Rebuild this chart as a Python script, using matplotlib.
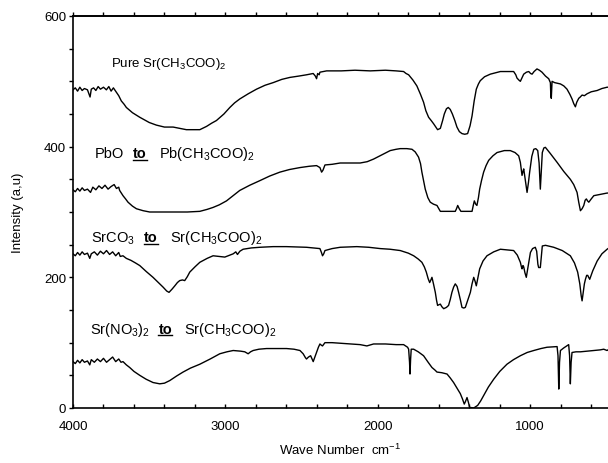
"""FTIR spectra of strontium / lead acetate prepared from different precursors.

Output: out.png
"""
import matplotlib
matplotlib.use("Agg")
import matplotlib.pyplot as plt  # noqa: E402
from matplotlib.lines import Line2D  # noqa: E402
from matplotlib.ticker import MultipleLocator, FixedLocator  # noqa: E402

plt.rcParams["font.family"] = ["Liberation Sans", "DejaVu Sans"]
plt.rcParams["mathtext.fontset"] = "custom"
plt.rcParams["mathtext.rm"] = "Liberation Sans"
plt.rcParams["mathtext.it"] = "Liberation Sans:italic"
plt.rcParams["mathtext.bf"] = "Liberation Sans:bold"

INK = "#000000"

# --- Pure Sr(CH3COO)2 -------------------------------------------------------
pure_wn = [4000, 3985, 3970, 3955, 3940, 3925, 3905, 3888, 3880, 3865, 3850, 3835,
           3820, 3800, 3781, 3765, 3750, 3735, 3715, 3700, 3683, 3665, 3650, 3610,
           3562, 3500, 3453, 3400, 3343, 3300, 3256, 3200, 3168, 3124, 3090, 3059,
           3010, 2971, 2940, 2906, 2850, 2796, 2740, 2687, 2630, 2577, 2520, 2468,
           2424, 2410, 2402, 2395, 2385, 2380, 2336, 2240, 2150, 2050, 1950, 1880,
           1831, 1815, 1798, 1770, 1744, 1720, 1700, 1685, 1667, 1650, 1634, 1620,
           1608, 1590, 1575, 1564, 1550, 1538, 1525, 1511, 1495, 1481, 1465, 1448,
           1430, 1411, 1395, 1382, 1368, 1354, 1340, 1328, 1300, 1262, 1230, 1196,
           1150, 1109, 1095, 1087, 1075, 1065, 1055, 1043, 1025, 1010, 998, 988,
           975, 956, 940, 923, 900, 879, 868, 865, 862, 858, 857, 840, 802, 780,
           759, 740, 726, 715, 704, 695, 682, 672, 660, 645, 627, 600, 561, 530,
           496, 490]
pure_int = [487, 490, 485, 491, 486, 489, 487, 476, 488, 490, 486, 492,
            488, 491, 487, 492, 485, 490, 483, 478, 470, 465, 460, 452,
            445, 437, 433, 430, 430, 428, 426, 426, 426, 431, 436, 440,
            450, 460, 467, 473, 481, 488, 494, 498, 503, 506, 508, 510,
            512, 508, 504, 512, 510, 514, 516, 516, 517, 516, 517, 516,
            515, 512, 510, 502, 493, 480, 468, 455, 445, 440, 435, 430,
            426, 428, 440, 450, 458, 460, 457, 450, 440, 430, 423, 420,
            419, 420, 432, 447, 470, 488, 496, 501, 507, 511, 513, 515,
            515, 515, 510, 505, 502, 500, 505, 511, 514, 515, 512, 511,
            515, 519, 517, 514, 508, 504, 498, 478, 474, 495, 500, 498, 496, 493,
            488, 480, 473, 466, 461, 468, 474, 476, 479, 478, 481, 484, 486, 489,
            491, 491]

# --- PbO -> Pb(CH3COO)2 -----------------------------------------------------
pbo_wn = [4000, 3985, 3970, 3955, 3940, 3925, 3905, 3885, 3870, 3850, 3830, 3810,
          3790, 3770, 3750, 3730, 3715, 3700, 3694, 3680, 3672, 3655, 3639, 3610,
          3584, 3540, 3497, 3400, 3343, 3250, 3168, 3120, 3081, 3040, 2993, 2950,
          2906, 2840, 2774, 2710, 2643, 2580, 2511, 2450, 2402, 2380, 2369, 2360,
          2347, 2300, 2247, 2116, 2070, 2028, 1970, 1919, 1880, 1853, 1810, 1776,
          1755, 1733, 1720, 1711, 1700, 1689, 1672, 1656, 1635, 1612, 1600, 1590,
          1540, 1492, 1484, 1476, 1466, 1455, 1420, 1382, 1374, 1367, 1358, 1350,
          1340, 1332, 1320, 1306, 1290, 1273, 1245, 1218, 1170, 1131, 1100, 1076,
          1065, 1054, 1048, 1043, 1032, 1021, 1012, 1004, 990, 977, 964, 951,
          942, 934, 928, 921, 911, 901, 870, 824, 780, 737, 715, 693,
          682, 671, 660, 649, 640, 632, 624, 616, 600, 583, 540, 496, 490]
pbo_int = [334, 331, 336, 332, 337, 333, 335, 330, 338, 334, 340, 336,
           341, 335, 339, 342, 336, 338, 333, 328, 325, 320, 315, 309,
           305, 302, 300, 300, 300, 300, 301, 304, 307, 311, 317, 325,
           333, 341, 348, 355, 361, 365, 368, 370, 371, 368, 361, 364,
           372, 373, 375, 375, 377, 381, 388, 394, 396, 397, 397, 396,
           392, 384, 374, 361, 348, 335, 322, 315, 312, 310, 305, 301,
           301, 301, 305, 310, 305, 301, 301, 301, 310, 317, 312, 310,
           322, 335, 348, 361, 371, 379, 386, 391, 394, 394, 391, 386,
           376, 356, 362, 366, 348, 330, 345, 361, 385, 396, 397, 394,
           375, 335, 360, 391, 398, 399, 390, 376, 362, 350, 342, 330,
           315, 302, 305, 310, 318, 320, 317, 315, 320, 325, 327, 329, 329]

# --- SrCO3 -> Sr(CH3COO)2 ---------------------------------------------------
srco3_wn = [4000, 3985, 3970, 3955, 3940, 3925, 3905, 3890, 3880, 3860, 3840, 3820,
            3800, 3780, 3760, 3740, 3720, 3700, 3690, 3672, 3650, 3620, 3590, 3562,
            3520, 3475, 3440, 3409, 3385, 3370, 3350, 3332, 3315, 3300, 3282, 3267,
            3250, 3234, 3200, 3168, 3120, 3081, 3040, 3004, 2970, 2949, 2932, 2921,
            2905, 2884, 2830, 2774, 2687, 2600, 2468, 2380, 2370, 2363, 2355, 2347,
            2300, 2247, 2138, 2060, 1984, 1920, 1853, 1800, 1765, 1735, 1711, 1695,
            1682, 1670, 1660, 1652, 1645, 1635, 1623, 1615, 1608, 1600, 1590, 1580,
            1568, 1550, 1536, 1525, 1514, 1503, 1492, 1480, 1470, 1458, 1448, 1436,
            1426, 1410, 1393, 1382, 1371, 1362, 1354, 1343, 1332, 1310, 1284, 1240,
            1196, 1150, 1109, 1085, 1065, 1058, 1054, 1048, 1043, 1035, 1026, 1012,
            999, 985, 967, 958, 950, 945, 934, 928, 921, 900, 846, 790,
            737, 710, 689, 675, 666, 660, 652, 645, 638, 630, 623, 617,
            610, 590, 561, 530, 496, 490]
srco3_int = [236, 233, 238, 234, 239, 235, 237, 229, 236, 239, 234, 240,
             236, 241, 235, 239, 233, 238, 232, 233, 229, 226, 222, 218,
             209, 200, 192, 185, 179, 177, 182, 187, 192, 195, 196, 195,
             201, 208, 216, 223, 229, 233, 232, 231, 234, 236, 239, 235,
             240, 243, 245, 246, 247, 247, 246, 244, 238, 233, 236, 241,
             244, 246, 247, 246, 244, 243, 241, 237, 233, 228, 223, 216,
             208, 198, 192, 196, 200, 190, 177, 165, 157, 158, 159, 155,
             152, 154, 157, 166, 177, 185, 190, 186, 177, 165, 154, 153,
             154, 165, 177, 190, 200, 194, 187, 200, 213, 225, 233, 239,
             243, 242, 241, 234, 223, 216, 213, 218, 216, 207, 200, 220,
             238, 244, 246, 240, 220, 215, 215, 230, 248, 249, 246, 241,
             233, 222, 208, 190, 172, 164, 178, 190, 197, 203, 203, 200,
             197, 210, 225, 236, 243, 244]

# --- Sr(NO3)2 -> Sr(CH3COO)2 ------------------------------------------------
srno3_wn = [4000, 3985, 3970, 3955, 3940, 3925, 3905, 3890, 3880, 3860, 3840, 3820,
            3800, 3780, 3760, 3740, 3720, 3700, 3685, 3672, 3650, 3628, 3600, 3562,
            3520, 3475, 3431, 3400, 3365, 3320, 3278, 3230, 3168, 3100, 3037, 2990,
            2949, 2900, 2873, 2851, 2835, 2818, 2780, 2730, 2660, 2599, 2550, 2511,
            2490, 2475, 2468, 2455, 2441, 2430, 2424, 2413, 2402, 2390, 2380, 2370,
            2363, 2347, 2300, 2240, 2170, 2116, 2072, 2028, 1950, 1880, 1831, 1805,
            1798, 1792, 1789, 1785, 1781, 1765, 1735, 1700, 1670, 1645, 1625, 1612,
            1580, 1546, 1525, 1503, 1480, 1459, 1445, 1433, 1425, 1415, 1405, 1398,
            1371, 1345, 1325, 1306, 1275, 1240, 1200, 1153, 1110, 1065, 1020, 977,
            930, 890, 824, 818, 813, 808, 802, 780, 760, 748, 742, 737,
            732, 726, 700, 671, 630, 583, 540, 518, 496, 490]
srno3_int = [71, 68, 73, 69, 74, 70, 72, 66, 74, 70, 75, 71,
             76, 70, 74, 78, 71, 75, 70, 71, 66, 62, 56, 50,
             44, 39, 37, 38, 42, 49, 55, 61, 67, 75, 83, 86,
             88, 87, 86, 83, 86, 88, 90, 91, 91, 91, 90, 88,
             83, 77, 75, 78, 80, 74, 71, 78, 85, 93, 98, 96,
             95, 100, 100, 99, 98, 97, 95, 98, 98, 97, 97, 93,
             90, 70, 52, 75, 90, 90, 86, 80, 70, 62, 58, 55,
             54, 52, 46, 39, 30, 22, 14, 6, 10, 16, 8, 1,
             0, 4, 11, 19, 32, 44, 56, 67, 74, 80, 85, 88,
             91, 93, 94, 80, 29, 70, 88, 92, 95, 97, 80, 37,
             70, 85, 86, 86, 87, 88, 89, 90, 88, 89]

SPECTRA = [(pure_wn, pure_int), (pbo_wn, pbo_int),
           (srco3_wn, srco3_int), (srno3_wn, srno3_int)]

# label pieces: (text, bold+underlined?)
LABELS = [
    ((3749, 524), 9.5, [("Pure Sr(CH$_3$COO)$_2$", False)]),
    ((3858, 384), 10.5, [("PbO", False), ("to", True), ("Pb(CH$_3$COO)$_2$", False)]),
    ((3880, 255), 10.5, [("SrCO$_3$", False), ("to", True), ("Sr(CH$_3$COO)$_2$", False)]),
    ((3891, 115), 10.5, [("Sr(NO$_3$)$_2$", False), ("to", True), ("Sr(CH$_3$COO)$_2$", False)]),
]
GAPS = [9, 12]


def main():
    W, H = 608, 464
    fig = plt.figure(figsize=(W / 100, H / 100), dpi=100)
    ax = fig.add_axes([73 / W, 55 / H, 535 / W, 392 / H])

    for wn, inten in SPECTRA:
        ax.plot(wn, inten, color=INK, lw=1.0, solid_joinstyle="round")

    ax.set_xlim(4000, 490)
    ax.set_ylim(0, 600)
    ax.xaxis.set_major_locator(FixedLocator([4000, 3000, 2000, 1000]))
    ax.xaxis.set_minor_locator(MultipleLocator(200))
    ax.yaxis.set_major_locator(FixedLocator([0, 200, 400, 600]))
    ax.yaxis.set_minor_locator(MultipleLocator(50))
    ax.tick_params(axis="x", which="both", direction="in", length=3, width=1,
                   labelsize=9.5, pad=9, colors=INK)
    ax.tick_params(axis="y", which="both", direction="out", length=3, width=1,
                   labelsize=9.5, pad=2, colors=INK)
    top = ax.secondary_xaxis("top")
    top.xaxis.set_major_locator(FixedLocator([4000, 3000, 2000, 1000]))
    top.xaxis.set_minor_locator(MultipleLocator(200))
    top.tick_params(axis="x", which="both", direction="out", length=3, width=1,
                    labeltop=False)
    top.spines["top"].set_linewidth(1.2)
    for sp in ("left", "bottom", "top"):
        ax.spines[sp].set_linewidth(1.2)
    ax.spines["right"].set_visible(False)

    ax.set_xlabel("Wave Number  cm$^{-1}$", fontsize=9.5, color=INK)
    ax.xaxis.set_label_coords(0.5, -0.085)
    ax.set_ylabel("Intensity (a,u)", fontsize=9.5, color=INK)
    ax.yaxis.set_label_coords(-0.092, 0.5)

    renderer = fig.canvas.get_renderer()
    for (x, y), size, parts in LABELS:
        px, py = ax.transData.transform((x, y))
        for i, (s, strong) in enumerate(parts):
            t = fig.text(px / W, py / H, s, fontsize=size, color=INK,
                         fontweight="bold" if strong else "normal",
                         ha="left", va="baseline")
            bb = t.get_window_extent(renderer)
            if strong:
                fig.add_artist(Line2D([bb.x0 / W, bb.x1 / W],
                                      [(py - 2.5) / H, (py - 2.5) / H],
                                      transform=fig.transFigure, color=INK, lw=1.0))
            if i < len(GAPS):
                px = bb.x1 + GAPS[i]

    fig.savefig("out.png", dpi=100, facecolor="white")


if __name__ == "__main__":
    main()
